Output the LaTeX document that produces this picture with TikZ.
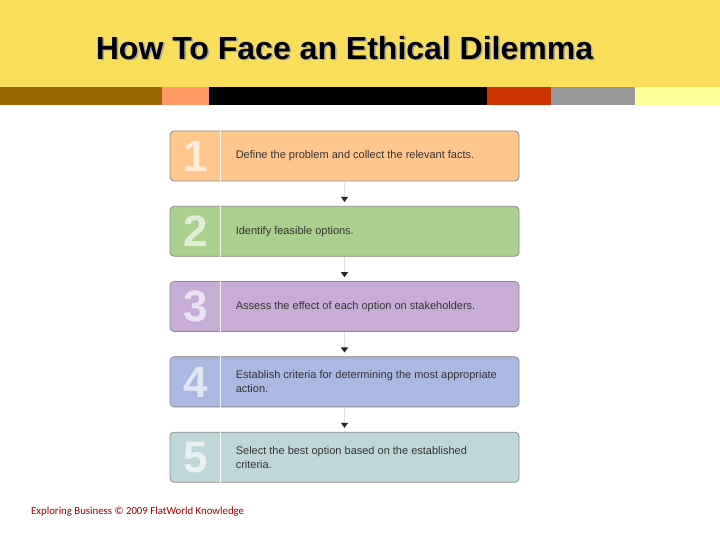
\documentclass[tikz,border=0pt]{standalone}
\usepackage{fontspec}
\setmainfont{Liberation Sans}
\newfontfamily\footfont{Carlito}
\usetikzlibrary{positioning, arrows.meta}
\definecolor{headyellow}{HTML}{F9DE5B}
\definecolor{barbrown}{HTML}{996600}
\definecolor{barsalmon}{HTML}{FF9966}
\definecolor{barred}{HTML}{CC3300}
\definecolor{bargray}{HTML}{999999}
\definecolor{barlight}{HTML}{FFFF99}
\definecolor{stepA}{HTML}{FFC68E}
\definecolor{stepB}{HTML}{A9D08E}
\definecolor{stepC}{HTML}{C7ADD6}
\definecolor{stepD}{HTML}{A9B9E2}
\definecolor{stepE}{HTML}{BED8DA}
\definecolor{boxline}{HTML}{8A8A8A}
\definecolor{foot}{HTML}{990000}
\tikzset{
  stepbox/.style={draw=boxline, line width=0.8pt, rounded corners=4pt,
    minimum width=349pt, minimum height=50pt, inner sep=0pt},
  num/.style={font=\fontsize{44}{44}\selectfont\bfseries, inner sep=0pt},
  txt/.style={anchor=west, align=left, text=black!80,
    font=\fontsize{11}{14}\selectfont, inner sep=0pt},
  conn/.style={draw=black!12, line width=0.6pt,
    -{Triangle[length=5pt,width=7pt,black!85]}, shorten >=4pt},
}

\begin{document}
\begin{tikzpicture}[x=1pt, y=1pt, node distance=24.5pt]
\useasboundingbox (0,0) rectangle (720,540);
\fill[white] (0,0) rectangle (720,540);
% header
\fill[headyellow] (0,453) rectangle (720,540);
\fill[barbrown] (0,435) rectangle (162,453);
\fill[barsalmon] (162,435) rectangle (209,453);
\fill[black] (209,435) rectangle (487,453);
\fill[barred] (487,435) rectangle (551,453);
\fill[bargray] (551,435) rectangle (635,453);
\fill[barlight] (635,435) rectangle (720,453);
\node[text=black!35, font=\fontsize{32}{32}\selectfont\bfseries] at (346,490.5) {How To Face an Ethical Dilemma};
\node (title) [font=\fontsize{32}{32}\selectfont\bfseries] at (344.5,492) {How To Face an Ethical Dilemma};

% steps
\node[stepbox, fill=stepA] (s1) at (344.5,384) {};
\node[stepbox, fill=stepB, below=of s1] (s2) {};
\node[stepbox, fill=stepC, below=of s2] (s3) {};
\node[stepbox, fill=stepD, below=of s3] (s4) {};
\node[stepbox, fill=stepE, below=of s4] (s5) {};

\foreach \s/\c/\n in {s1/stepA/1, s2/stepB/2, s3/stepC/3, s4/stepD/4, s5/stepE/5}{
  \draw[white!85!\c, line width=1.6pt] ([xshift=51pt]\s.north west) -- ([xshift=51pt]\s.south west);
  \node[num, text=\c!35!white] (n\n) at ([xshift=26pt]\s.west) {\n};
}

\node[txt] (t1) at ([xshift=66pt]s1.west) {Define the problem and collect the relevant facts.};
\node[txt] (t2) at ([xshift=66pt]s2.west) {Identify feasible options.};
\node[txt] (t3) at ([xshift=66pt]s3.west) {Assess the effect of each option on stakeholders.};
\node[txt] (t4) at ([xshift=66pt]s4.west) {Establish criteria for determining the most appropriate\\action.};
\node[txt] (t5) at ([xshift=66pt]s5.west) {Select the best option based on the established\\criteria.};

\draw[conn] (s1) -- (s2);
\draw[conn] (s2) -- (s3);
\draw[conn] (s3) -- (s4);
\draw[conn] (s4) -- (s5);

% footer
\node (credit) [anchor=west, text=foot, font=\footfont\fontsize{10.8}{12}\selectfont, inner sep=0pt] at (31,28) {Exploring Business © 2009 FlatWorld Knowledge};
\end{tikzpicture}
\end{document}
